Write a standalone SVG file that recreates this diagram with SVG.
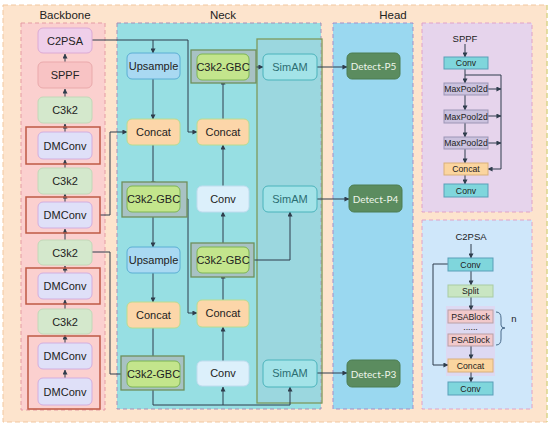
<svg xmlns="http://www.w3.org/2000/svg" width="550" height="428" viewBox="0 0 550 428">
<defs>
<marker id="ah" viewBox="0 0 6 6" refX="5.5" refY="3" markerWidth="5" markerHeight="5" orient="auto" markerUnits="userSpaceOnUse">
<path d="M0,0 L6,3 L0,6 z" fill="#2f3d4c"/>
</marker>
<style>
text{font-family:"Liberation Sans",Arial,sans-serif;text-anchor:middle;dominant-baseline:central;fill:#222}
.t{font-size:11px}
.s{font-size:8.7px}
.title{font-size:11.5px;fill:#222}
.e{fill:none;stroke:#2f3d4c;stroke-width:1;marker-end:url(#ah)}
.c2psa{fill:#efcfea;stroke:#dcaad6;stroke-width:1}
.sppf{fill:#f8c3c4;stroke:#eaa9ab;stroke-width:1}
.c3k2{fill:#d4e8cc;stroke:#c2d8b8;stroke-width:1}
.dm{fill:#dfe0f8;stroke:#d2aee0;stroke-width:1}
.rf{fill:none;stroke:#bf5a45;stroke-width:1.5}
.up{fill:#a9d9f2;stroke:#5aaed4;stroke-width:1}
.cat{fill:#fcd6a9;stroke:#b8dc90;stroke-width:1}
.gbc{fill:#c3e58c;stroke:#7cb552;stroke-width:1}
.gf{fill:#a8c2c4;stroke:#6e8f5c;stroke-width:1.3}
.conv{fill:#dcf0fb;stroke:#c0dcee;stroke-width:1}
.sim{fill:#a3e3e8;stroke:#4bb3bb;stroke-width:1}
.det{fill:#5b8c5f;stroke:#4d7d52;stroke-width:1}
.dt{font-size:10px;fill:#eef6ea;font-family:Lato,"Liberation Sans",sans-serif}
.st{fill:#2b6e73}
.tc{fill:#7fd6dc;stroke:#5a9fb8;stroke-width:1}
.mp{fill:#cbc2de;stroke:#9c95b5;stroke-width:1}
.oc{fill:#fbd59f;stroke:#d9b07a;stroke-width:1}
.sp{fill:#c9e6c2;stroke:#a9cca2;stroke-width:1}
.psa{fill:#f2c9cb;stroke:#b9a0a6;stroke-width:1}
</style>
</defs>

<!-- background panels -->
<g id="panels">
<rect x="3" y="5" width="544" height="417" fill="#fde4cd" stroke="#f2c79f" stroke-dasharray="5,3" stroke-width="1"/>
<line x1="547" y1="5" x2="547" y2="422" stroke="#d6dc8c" stroke-dasharray="5,3" stroke-width="1.2"/>
<rect x="21" y="23" width="84" height="387" fill="#fbd0cf" stroke="#e59ca3" stroke-dasharray="4,3" stroke-width="1"/>
<rect x="117" y="23" width="204" height="386" fill="#97dfe3" stroke="#a88fb6" stroke-dasharray="4,3" stroke-width="1"/>
<rect x="333" y="23" width="80" height="386" fill="#9ad8f0" stroke="#a58fc7" stroke-dasharray="4,3" stroke-width="1"/>
<rect x="422" y="23" width="110" height="189" fill="#e6d4ec" stroke="#e0a2c8" stroke-dasharray="4,3" stroke-width="1"/>
<rect x="422" y="220" width="110" height="189" fill="#cfe7fa" stroke="#e0a2c8" stroke-dasharray="4,3" stroke-width="1"/>
<rect x="257" y="39" width="65" height="364" fill="#a6c8d6" fill-opacity="0.3" stroke="#7d9a5c" stroke-width="1.3"/>
<rect x="446" y="306" width="49" height="70" fill="#e2d3ee" fill-opacity="0.7"/>
<text class="title" x="65" y="15">Backbone</text>
<text class="title" x="223" y="15">Neck</text>
<text class="title" x="393" y="15">Head</text>
</g>

<!-- connectors -->
<g id="connectors">
<path class="e" d="M65,378 V370"/>
<path class="e" d="M65,343 V335"/>
<path class="e" d="M65,309 V300"/>
<path class="e" d="M65,273 V266"/>
<path class="e" d="M65,240 V229"/>
<path class="e" d="M65,202 V194"/>
<path class="e" d="M65,168 V160"/>
<path class="e" d="M65,132 V124"/>
<path class="e" d="M65,97 V89"/>
<path class="e" d="M65,62 V54"/>
<path class="e" d="M92,40 H188 V132 H197"/>
<path class="e" d="M153,40 V53"/>
<path class="e" d="M100,215 H110 V132 H127"/>
<path class="e" d="M92,252 H110 V374 H127"/>
<path class="e" d="M153,79 V119"/>
<path class="e" d="M153,145 V186"/>
<path class="e" d="M153,212 V247"/>
<path class="e" d="M153,273 V302"/>
<path class="e" d="M153,328 V361"/>
<path class="e" d="M180,199 H188 V313 H197"/>
<path class="e" d="M153,387 V405 H290 V387"/>
<path class="e" d="M223,405 V387"/>
<path class="e" d="M223,361 V327"/>
<path class="e" d="M223,300 V274"/>
<path class="e" d="M223,247 V212"/>
<path class="e" d="M249,260 H290 V212"/>
<path class="e" d="M223,186 V145"/>
<path class="e" d="M223,119 V80"/>
<path class="e" d="M249,67 H263"/>
<path class="e" d="M317,67 H347"/>
<path class="e" d="M317,199 H349"/>
<path class="e" d="M317,373 H347"/>
<path class="e" d="M465,44 V57"/>
<path class="e" d="M465,69 V83"/>
<path class="e" d="M465,75 H501 V169 H488"/>
<path class="e" d="M465,95 V110"/>
<path class="e" d="M465,123 V137"/>
<path class="e" d="M465,149 V163"/>
<path class="e" d="M465,175 V184"/>
<path class="e" d="M488,89 H501"/>
<path class="e" d="M488,116 H501"/>
<path class="e" d="M488,143 H501"/>
<path class="e" d="M471,244 V258"/>
<path class="e" d="M471,271 V285"/>
<path class="e" d="M471,297 V310"/>
<path class="e" d="M471,346 V359"/>
<path class="e" d="M471,372 V382"/>
<path class="e" d="M448,264 H433 V365 H448"/>
</g>

<!-- backbone nodes -->
<g id="bb-c2psa"><rect class="c2psa" x="38" y="28" width="54" height="25" rx="5"/><text class="t" x="65" y="41">C2PSA</text></g>
<g id="bb-sppf"><rect class="sppf" x="38" y="62" width="54" height="26" rx="5"/><text class="t" x="65" y="75">SPPF</text></g>
<g id="bb-c3k2-4"><rect class="c3k2" x="38" y="97" width="54" height="26" rx="5"/><text class="t" x="65" y="110">C3k2</text></g>
<g id="bb-dm-4"><rect class="rf" x="26" y="127" width="74" height="37"/><rect class="dm" x="38" y="132" width="54" height="27" rx="5"/><text class="t" x="65" y="146">DMConv</text></g>
<g id="bb-c3k2-3"><rect class="c3k2" x="38" y="168" width="54" height="26" rx="5"/><text class="t" x="65" y="181">C3k2</text></g>
<g id="bb-dm-3"><rect class="rf" x="26" y="197" width="74" height="36"/><rect class="dm" x="38" y="202" width="54" height="26" rx="5"/><text class="t" x="65" y="215">DMConv</text></g>
<g id="bb-c3k2-2"><rect class="c3k2" x="38" y="240" width="54" height="25" rx="5"/><text class="t" x="65" y="253">C3k2</text></g>
<g id="bb-dm-2"><rect class="rf" x="26" y="268" width="74" height="36"/><rect class="dm" x="38" y="273" width="54" height="26" rx="5"/><text class="t" x="65" y="286">DMConv</text></g>
<g id="bb-c3k2-1"><rect class="c3k2" x="38" y="309" width="54" height="25" rx="5"/><text class="t" x="65" y="322">C3k2</text></g>
<g id="bb-dm-1"><rect class="rf" x="28" y="336" width="72" height="73"/><rect class="dm" x="38" y="343" width="54" height="26" rx="5"/><text class="t" x="65" y="356">DMConv</text><rect class="dm" x="38" y="378" width="54" height="27" rx="5"/><text class="t" x="65" y="392">DMConv</text></g>

<!-- neck nodes -->
<g id="nk-up1"><rect class="up" x="127" y="53" width="53" height="26" rx="5"/><text class="t" x="153.5" y="66">Upsample</text></g>
<g id="nk-cat1"><rect class="cat" x="127" y="119" width="53" height="26" rx="5"/><text class="t" x="153.5" y="132">Concat</text></g>
<g id="nk-gbc1"><rect class="gf" x="122" y="182" width="65" height="35"/><rect class="gbc" x="127" y="186" width="53" height="26" rx="5"/><text class="t" x="153.5" y="199">C3k2-GBC</text></g>
<g id="nk-up2"><rect class="up" x="127" y="247" width="53" height="26" rx="5"/><text class="t" x="153.5" y="260">Upsample</text></g>
<g id="nk-cat2"><rect class="cat" x="127" y="302" width="53" height="26" rx="5"/><text class="t" x="153.5" y="315">Concat</text></g>
<g id="nk-gbc2"><rect class="gf" x="121" y="356" width="63" height="34"/><rect class="gbc" x="127" y="361" width="53" height="26" rx="5"/><text class="t" x="153.5" y="374">C3k2-GBC</text></g>
<g id="nk-gbc5"><rect class="gf" x="191" y="50" width="65" height="33"/><rect class="gbc" x="197" y="54" width="52" height="26" rx="5"/><text class="t" x="223" y="67">C3k2-GBC</text></g>
<g id="nk-cat4"><rect class="cat" x="197" y="119" width="52" height="26" rx="5"/><text class="t" x="223" y="132">Concat</text></g>
<g id="nk-conv2"><rect class="conv" x="197" y="186" width="52" height="26" rx="5"/><text class="t" x="223" y="199">Conv</text></g>
<g id="nk-gbc4"><rect class="gf" x="191" y="243" width="63" height="34"/><rect class="gbc" x="197" y="247" width="52" height="26" rx="5"/><text class="t" x="223" y="260">C3k2-GBC</text></g>
<g id="nk-cat3"><rect class="cat" x="197" y="300" width="52" height="27" rx="5"/><text class="t" x="223" y="313">Concat</text></g>
<g id="nk-conv1"><rect class="conv" x="197" y="361" width="52" height="25" rx="5"/><text class="t" x="223" y="373">Conv</text></g>
<g id="nk-sim5"><rect class="sim" x="263" y="54" width="54" height="26" rx="5"/><text class="t st" x="290" y="67">SimAM</text></g>
<g id="nk-sim4"><rect class="sim" x="263" y="186" width="54" height="26" rx="5"/><text class="t st" x="290" y="199">SimAM</text></g>
<g id="nk-sim3"><rect class="sim" x="263" y="360" width="54" height="27" rx="5"/><text class="t st" x="290" y="373">SimAM</text></g>

<!-- head nodes -->
<g id="hd-p5"><rect class="det" x="347" y="53" width="53" height="26" rx="5"/><text class="dt" x="373.5" y="66">Detect-P5</text></g>
<g id="hd-p4"><rect class="det" x="349" y="185" width="53" height="27" rx="5"/><text class="dt" x="375.5" y="198.5">Detect-P4</text></g>
<g id="hd-p3"><rect class="det" x="347" y="360" width="53" height="27" rx="5"/><text class="dt" x="373.5" y="373.5">Detect-P3</text></g>

<!-- SPPF detail -->
<g id="sppf-title"><text class="s" x="465" y="38" style="font-size:9.5px">SPPF</text></g>
<g id="sppf-conv1"><rect class="tc" x="444" y="57" width="44" height="12"/><text class="s" x="466" y="63">Conv</text></g>
<g id="sppf-mp1"><rect class="mp" x="444" y="83" width="44" height="12"/><text class="s" x="466" y="89">MaxPool2d</text></g>
<g id="sppf-mp2"><rect class="mp" x="444" y="110" width="44" height="13"/><text class="s" x="466" y="116.5">MaxPool2d</text></g>
<g id="sppf-mp3"><rect class="mp" x="444" y="137" width="44" height="12"/><text class="s" x="466" y="143">MaxPool2d</text></g>
<g id="sppf-cat"><rect class="oc" x="444" y="163" width="44" height="12"/><text class="s" x="466" y="169">Concat</text></g>
<g id="sppf-conv2"><rect class="tc" x="444" y="184" width="44" height="13"/><text class="s" x="466" y="190.5">Conv</text></g>

<!-- C2PSA detail -->
<g id="c2psa-title"><text class="s" x="471" y="236" style="font-size:9.5px">C2PSA</text></g>
<g id="c2psa-conv1"><rect class="tc" x="448" y="258" width="45" height="13"/><text class="s" x="470.5" y="264.5">Conv</text></g>
<g id="c2psa-split"><rect class="sp" x="448" y="285" width="45" height="12"/><text class="s" x="470.5" y="291">Split</text></g>
<g id="c2psa-psa1"><rect class="psa" x="448" y="310" width="45" height="13"/><text class="s" x="470.5" y="316.5">PSABlock</text></g>
<g id="c2psa-dots"><text class="s" x="470.5" y="327">......</text></g>
<g id="c2psa-psa2"><rect class="psa" x="448" y="334" width="45" height="12"/><text class="s" x="470.5" y="340">PSABlock</text></g>
<g id="c2psa-cat"><rect class="oc" x="448" y="359" width="45" height="13"/><text class="s" x="470.5" y="365.5">Concat</text></g>
<g id="c2psa-conv2"><rect class="tc" x="448" y="382" width="45" height="13"/><text class="s" x="470.5" y="388.5">Conv</text></g>
<g id="c2psa-n"><path d="M496,312 Q501,312 501,318 V325 Q501,328 505,328 Q501,328 501,331 V339 Q501,345 496,345" fill="none" stroke="#4a6a8a" stroke-width="1"/><text class="s" x="514" y="318" style="font-size:9.5px">n</text></g>
</svg>
